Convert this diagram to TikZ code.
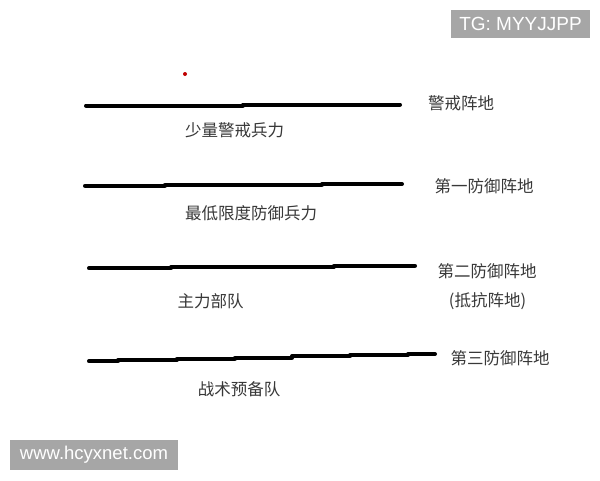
\documentclass[tikz,border=0pt]{standalone}
\usepackage{fontspec}
\newfontfamily\cjk{Noto Sans CJK SC}
\newfontfamily\wm{Liberation Sans}
\begin{document}
\begin{tikzpicture}[x=1pt,y=-1pt,
  ln/.style={line width=4pt,line cap=round,line join=round,black},
  lbl/.style={inner sep=0pt,text=black!78,font=\cjk\fontsize{16.5}{18}\selectfont},
  wmark/.style={fill=black!35,text=white,inner sep=0pt,font=\wm\fontsize{19}{21}\selectfont}]
\useasboundingbox (0,0) rectangle (600,480);
\fill[white] (0,0) rectangle (600,480);
% watermarks
\node[wmark,minimum width=139pt,minimum height=28pt] (tg) at (520.5,24) {TG: MYYJJPP};
\node[wmark,minimum width=168pt,minimum height=30pt] (www) at (94,455) {\fontsize{18.5}{20}\selectfont www.hcyxnet.com};
% red dot
\fill[red!75!black] (185,74) circle (2);
% line 1
\coordinate (a1) at (86,105.5); \coordinate (a2) at (243,105.5);
\coordinate (a3) at (243,104.5); \coordinate (a4) at (400,104.5);
\draw[ln] (a1) -- (a2) (a3) -- (a4);
% line 2
\coordinate (b1) at (85,185.7); \coordinate (b2) at (165,185.7);
\coordinate (b3) at (165,184.7); \coordinate (b4) at (322,184.7);
\coordinate (b5) at (322,184); \coordinate (b6) at (402,184);
\draw[ln] (b1) -- (b2) (b3) -- (b4) (b5) -- (b6);
% line 3
\coordinate (c1) at (89,268.3); \coordinate (c2) at (171,268.3);
\coordinate (c3) at (171,267); \coordinate (c4) at (334,267);
\coordinate (c5) at (334,265.7); \coordinate (c6) at (415,265.7);
\draw[ln] (c1) -- (c2) (c3) -- (c4) (c5) -- (c6);
% line 4
\coordinate (d1) at (89,361.3); \coordinate (d2) at (118,361.3);
\coordinate (d3) at (118,360); \coordinate (d4) at (177,360);
\coordinate (d5) at (177,358.7); \coordinate (d6) at (235,358.7);
\coordinate (d7) at (235,357.7); \coordinate (d8) at (292,357.7);
\coordinate (d9) at (292,356.3); \coordinate (d10) at (350,356.3);
\coordinate (d11) at (350,355); \coordinate (d12) at (408,355);
\coordinate (d13) at (408,354); \coordinate (d14) at (435,354);
\draw[ln] (d1) -- (d2) (d3) -- (d4) (d5) -- (d6) (d7) -- (d8) (d9) -- (d10) (d11) -- (d12) (d13) -- (d14);
% labels
\node[lbl] (t1) at (461,103) {警戒阵地};
\node[lbl] (s1) at (234.5,130) {少量警戒兵力};
\node[lbl] (t2) at (484,186) {第一防御阵地};
\node[lbl] (s2) at (251,213) {最低限度防御兵力};
\node[lbl] (t3) at (487,271) {第二防御阵地};
\node[lbl] (t3b) at (487.5,301) {(抵抗阵地)};
\node[lbl] (s3) at (210.5,301) {主力部队};
\node[lbl] (t4) at (500,358) {第三防御阵地};
\node[lbl] (s4) at (239,389) {战术预备队};
\end{tikzpicture}
\end{document}
